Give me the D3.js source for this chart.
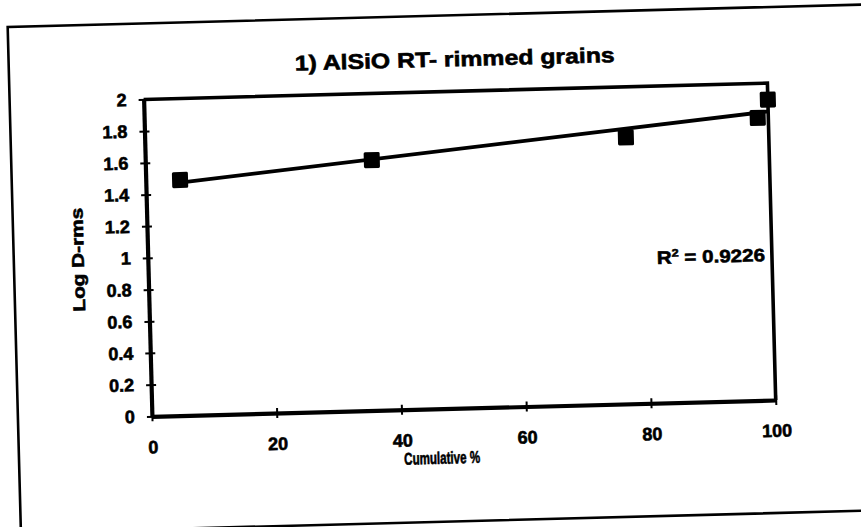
<!DOCTYPE html>
<html><head><meta charset="utf-8">
<script src="https://cdn.jsdelivr.net/npm/d3@7"></script>
<style>
html,body{margin:0;padding:0;background:#fff;}
svg{display:block;}
text{font-family:"Liberation Sans",Arial,sans-serif;font-weight:bold;fill:#000;stroke:#000;stroke-width:0.6px;}
</style>
</head><body>
<svg id="c" width="861" height="527"></svg>
<script>
// ---- data ----
const cumulativePct = [5.5, 36.3, 77.1, 98.3, 100];
const logDrms = [1.486, 1.580, 1.681, 1.782, 1.896];
const xTicks = [0, 20, 40, 60, 80, 100];
const yTicks = [0, 0.2, 0.4, 0.6, 0.8, 1, 1.2, 1.4, 1.6, 1.8, 2];
const titleText = "1) AlSiO RT- rimmed grains";
const xTitle = "Cumulative %";
const yTitle = "Log D-rms";
const r2Value = "0.9226";

// ---- layout ----
const W = 861, H = 527;
const plot = {l: 148, r: 772, t: 92, b: 409};
const svg = d3.select("#c");
svg.append("rect").attr("width", W).attr("height", H).attr("fill", "#fff");
const g = svg.append("g").attr("transform", "rotate(-1.5,430,263)");

// outer chart frame
g.append("rect").attr("x", 14).attr("y", 16).attr("width", 880).attr("height", 506)
  .attr("fill", "none").attr("stroke", "#000").attr("stroke-width", 2.6);

const x = d3.scaleLinear().domain([0, 100]).range([plot.l, plot.r]);
const y = d3.scaleLinear().domain([0, 2]).range([plot.b, plot.t]);

// title
g.append("text").attr("x", (plot.l + plot.r) / 2).attr("y", 67)
  .attr("text-anchor", "middle").style("font-size", "21px")
  .attr("textLength", 320).attr("lengthAdjust", "spacingAndGlyphs")
  .text(titleText);

// plot box (top + right)
g.append("path")
  .attr("d", `M${x(0)},${y(2)}H${x(100)}V${y(0)}`)
  .attr("fill", "none").attr("stroke", "#000").attr("stroke-width", 3.6);

// axes
const xAxis = d3.axisBottom(x).tickValues(xTicks).tickSize(0).tickFormat(d => d);
const gx = g.append("g").attr("transform", `translate(0,${plot.b})`).call(xAxis);
gx.select(".domain").attr("stroke", "#000").attr("stroke-width", 4.2);
gx.selectAll(".tick text").attr("y", 37).attr("dy", 0).style("font-size", "18px").attr("font-family", null);
gx.selectAll(".tick").append("line").attr("y1", -5).attr("y2", 5).attr("stroke", "#000").attr("stroke-width", 2);

const yAxis = d3.axisLeft(y).tickValues(yTicks).tickSize(0).tickFormat(d => String(+d.toFixed(1)));
const gy = g.append("g").attr("transform", `translate(${plot.l},0)`).call(yAxis);
gy.select(".domain").attr("stroke", "#000").attr("stroke-width", 4.2);
gy.selectAll(".tick text").attr("x", -17).style("font-size", "18px").attr("font-family", null);
gy.selectAll(".tick").append("line").attr("x1", -5).attr("x2", 5).attr("stroke", "#000").attr("stroke-width", 2);
g.selectAll(".tick text").attr("fill", "#000");

// axis titles
g.append("text").attr("x", 437).attr("y", 464).attr("text-anchor", "middle")
  .style("font-size", "17px").attr("textLength", 76).attr("lengthAdjust", "spacingAndGlyphs")
  .text(xTitle);
g.append("text").attr("transform", `translate(84,${(plot.t + plot.b) / 2}) rotate(-90)`)
  .attr("text-anchor", "middle").style("font-size", "17px")
  .attr("textLength", 104).attr("lengthAdjust", "spacingAndGlyphs")
  .text(yTitle);

// linear trendline (least squares from data)
const n = cumulativePct.length;
const mx = d3.mean(cumulativePct), my = d3.mean(logDrms);
let sxy = 0, sxx = 0;
for (let i = 0; i < n; i++) { sxy += (cumulativePct[i] - mx) * (logDrms[i] - my); sxx += (cumulativePct[i] - mx) ** 2; }
const slope = sxy / sxx, icpt = my - slope * mx;
const xExt = d3.extent(cumulativePct);
g.append("line")
  .attr("x1", x(xExt[0])).attr("y1", y(icpt + slope * xExt[0]))
  .attr("x2", x(xExt[1])).attr("y2", y(icpt + slope * xExt[1]))
  .attr("stroke", "#000").attr("stroke-width", 3.8);

// markers
const ms = 16;
g.selectAll("rect.pt").data(cumulativePct.map((v, i) => [v, logDrms[i]])).enter()
  .append("rect").attr("class", "pt")
  .attr("x", d => x(d[0]) - ms / 2).attr("y", d => y(d[1]) - ms / 2)
  .attr("width", ms).attr("height", ms).attr("rx", 1.5).attr("fill", "#000");

// R^2 label
const r2 = g.append("text").attr("x", 657).attr("y", 270).style("font-size", "18px")
  .attr("textLength", 108).attr("lengthAdjust", "spacingAndGlyphs");
r2.append("tspan").text("R");
r2.append("tspan").attr("dy", -7).style("font-size", "11px").text("2");
r2.append("tspan").attr("dy", 7).text(" = " + r2Value);
</script>
</body></html>
